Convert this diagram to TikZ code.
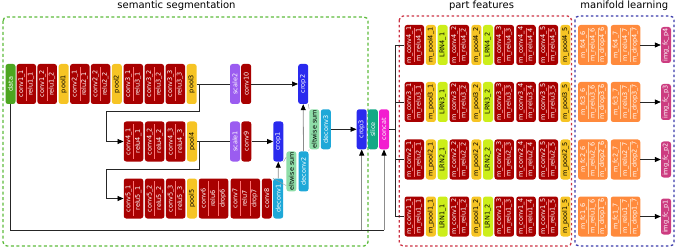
\documentclass[tikz,border=0pt]{standalone}
\usepackage{fontspec}
\setmainfont{DejaVu Sans}
\usetikzlibrary{arrows.meta,calc}
\definecolor{cconv}{HTML}{A80000}
\definecolor{cpool}{HTML}{F6C424}
\definecolor{cdata}{HTML}{4DA520}
\definecolor{cscale}{HTML}{9B5CF0}
\definecolor{ccrop}{HTML}{2A2AEE}
\definecolor{celt}{HTML}{8EDDA8}
\definecolor{cdec}{HTML}{1EA8D8}
\definecolor{cslice}{HTML}{13A985}
\definecolor{cconcat}{HTML}{F21ECF}
\definecolor{clrn}{HTML}{CCEE1A}
\definecolor{cfc}{HTML}{FF8A3C}
\definecolor{cimg}{HTML}{CC3C80}
\definecolor{gboxc}{HTML}{5DBB3C}
\definecolor{rboxc}{HTML}{CC3344}
\definecolor{bboxc}{HTML}{3A3AAA}
\begin{document}
\begin{tikzpicture}[x=1pt,y=-1pt,
  blk/.style={rotate=90, rounded corners=2.5pt, minimum width=40pt, inner sep=0pt,
    align=center, text=white, font=\fontsize{6.5}{9.5}\selectfont},
  onebox/.style={blk, minimum height=10pt},
  twobox/.style={blk, minimum height=19.5pt},
  threebox/.style={blk, minimum height=29.5pt},
  convbox/.style={twobox, fill=cconv},
  poolbox/.style={onebox, fill=cpool, text=black},
  lrnbox/.style={onebox, fill=clrn, text=black},
  eltbox/.style={onebox, fill=celt, text=black},
  fcbox/.style={threebox, fill=cfc},
  imgbox/.style={onebox, fill=cimg, minimum width=36pt},
  title/.style={anchor=base, font=\fontsize{10}{12}\selectfont},
  conn/.style={draw=black!85, line width=0.7pt},
  gconn/.style={draw=black!45, line width=0.8pt},
  arr/.style={-{Triangle[length=6pt,width=5pt,color=black]}},
  thinl/.style={draw=black!40, line width=0.4pt},
  sepr/.style={draw=red!55!white, line width=0.5pt},
  sepo/.style={draw=orange!35!white, line width=0.5pt},
  gdash/.style={draw=gboxc, line width=1.3pt, dash pattern=on 3pt off 2.5pt, rounded corners=4pt},
  rdash/.style={draw=rboxc, line width=1.3pt, dash pattern=on 2.5pt off 2.5pt, rounded corners=4pt},
  bdash/.style={draw=bboxc, line width=1.3pt, dash pattern=on 2.5pt off 2.5pt, rounded corners=4pt}
]
\useasboundingbox (0,0) rectangle (676,248);

% group frames
\draw[gdash] (3,17) rectangle (368,246);
\draw[rdash] (399.3,16) rectangle (571.5,246);
\draw[bdash] (575,16) rectangle (674,246);
\node[title] (t1) at (176.5,9) {semantic segmentation};
\node[title] (t2) at (481.5,8.5) {part features};
\node[title] (t3) at (624.3,8.5) {manifold learning};

% row 1
\node[onebox, fill=cdata] (data) at (10.5,84) {data};
\node[convbox] (c11) at (26.3,84) {conv1\_1\\relu1\_1};
\node[convbox] (c12) at (47.2,84) {conv1\_2\\relu1\_2};
\node[poolbox] (p1) at (63.7,84) {pool1};
\node[convbox] (c21) at (79.8,84) {conv2\_1\\relu2\_1};
\node[convbox] (c22) at (100.5,84) {conv2\_2\\relu2\_2};
\node[poolbox] (p2) at (116.8,84) {pool2};
\node[convbox] (c31) at (133.3,84) {conv3\_1\\relu3\_1};
\node[convbox] (c32) at (154.3,84) {conv3\_2\\relu3\_2};
\node[convbox] (c33) at (175.3,84) {conv3\_3\\relu3\_3};
\node[poolbox] (p3) at (191.7,84) {pool3};
\node[onebox, fill=cscale] (sc2) at (235,84) {scale2};
\node[onebox, fill=cconv] (c10) at (246.2,84) {conv10};
\node[onebox, fill=ccrop] (cr2) at (303.2,84) {crop2};

% row 2
\node[convbox] (c41) at (133.5,141.5) {conv4\_1\\relu4\_1};
\node[convbox] (c42) at (154.7,141.5) {conv4\_2\\relu4\_2};
\node[convbox] (c43) at (175.7,141.5) {conv4\_3\\relu4\_3};
\node[poolbox] (p4) at (192,141.5) {pool4};
\node[onebox, fill=cscale] (sc1) at (235,141.5) {scale1};
\node[onebox, fill=cconv] (c9) at (246.3,141.5) {conv9};
\node[onebox, fill=ccrop] (cr1) at (278.3,141.5) {crop1};

% row 3
\node[convbox] (c51) at (133.5,198.5) {conv5\_1\\relu5\_1};
\node[convbox] (c52) at (154.7,198.5) {conv5\_2\\relu5\_2};
\node[convbox] (c53) at (175.7,198.5) {conv5\_3\\relu5\_3};
\node[poolbox] (p5) at (192,198.5) {pool5};
\node[threebox, fill=cconv] (c6) at (213.5,198.5) {conv6\\relu6\\drop6};
\node[threebox, fill=cconv] (c7) at (245.3,198.5) {conv7\\relu7\\drop7};
\node[onebox, fill=cconv] (c8) at (266.8,198.5) {conv8};
\node[onebox, fill=cdec] (dc1) at (278.2,198.5) {deconv1};

% fusion
\node[eltbox] (el1) at (291.4,171.4) {eltwise sum};
\node[onebox, fill=cdec] (dc2) at (303.5,171.4) {deconv2};
\node[eltbox] (el2) at (314.3,129.3) {eltwise sum};
\node[onebox, fill=cdec] (dc3) at (325.8,129.3) {deconv3};
\node[onebox, fill=ccrop] (cr3) at (361.7,129.3) {crop3};
\node[onebox, fill=cslice] (sl) at (372.8,129.3) {slice};
\node[onebox, fill=cconcat] (cc) at (384,129.3) {concat};

% part features + manifold rows
\foreach \k/\cy in {4/45,3/102,2/159.5,1/216.5}{
  \node[convbox] (m\k a) at (414.3,\cy) {m\_conv\k\_1\\m\_relu\k\_1};
  \node[poolbox] (q\k a) at (430.9,\cy) {m\_pool\k\_1};
  \node[lrnbox] (l\k a) at (442.7,\cy) {LRN\k\_1};
  \node[convbox] (m\k b) at (459.3,\cy) {m\_conv\k\_2\\m\_relu\k\_2};
  \node[poolbox] (q\k b) at (476.4,\cy) {m\_pool\k\_2};
  \node[lrnbox] (l\k b) at (488,\cy) {LRN\k\_2};
  \node[convbox] (m\k c) at (504.2,\cy) {m\_conv\k\_3\\m\_relu\k\_3};
  \node[convbox] (m\k d) at (526,\cy) {m\_conv\k\_4\\m\_relu\k\_4};
  \node[convbox] (m\k e) at (548.3,\cy) {m\_conv\k\_5\\m\_relu\k\_5};
  \node[poolbox] (q\k e) at (565.4,\cy) {m\_pool\k\_5};
  \node[fcbox] (f\k a) at (592.8,\cy) {m\_fc\k\_6\\m\_relu\k\_6\\m\_drop\k\_6};
  \node[fcbox] (f\k b) at (625.5,\cy) {m\_fc\k\_7\\m\_relu\k\_7\\m\_drop\k\_7};
  \node[imgbox] (g\k) at (666,\cy) {img\_fc\_p\k};
  \draw[conn,arr] (f\k b) -- (g\k);
}

% separators
\foreach \n in {c11,c12,c21,c22,c31,c32,c33,c41,c42,c43,c51,c52,c53,
  m1a,m1b,m1c,m1d,m1e,m2a,m2b,m2c,m2d,m2e,m3a,m3b,m3c,m3d,m3e,m4a,m4b,m4c,m4d,m4e}
  \draw[sepr] ([yshift=-3pt]\n.east) -- ([yshift=3pt]\n.west);
\foreach \n/\s in {c6/sepr,c7/sepr,f1a/sepo,f1b/sepo,f2a/sepo,f2b/sepo,f3a/sepo,f3b/sepo,f4a/sepo,f4b/sepo}
  \foreach \t in {1/3,2/3}
    \draw[\s] ($(\n.north east)!\t!(\n.south east)+(0,3)$) -- ($(\n.north west)!\t!(\n.south west)+(0,-3)$);

% semantic connectors
\draw[conn] (p3) -- (sc2);
\draw[conn,arr] (c10) -- (cr2);
\draw[conn,arr] (p3.south) -- ++(2.3,0) -- ++(0,27) -| ([xshift=-17pt]c41.north) -- (c41.north);
\draw[conn] (p4) -- (sc1);
\draw[conn,arr] (c9) -- (cr1);
\draw[conn,arr] (p4.south) -- ++(1.8,0) -- ++(0,27.5) -| ([xshift=-17pt]c51.north) -- (c51.north);
\draw[gconn,arr] (dc1.east) -- (cr1.west);
\draw[gconn,arr] (dc2.east) -- (cr2.west);
\draw[thinl] (cr1.south west) -- ([yshift=-6pt]el1.north east);
\draw[thinl] (dc1.north east) -- ([yshift=6pt]el1.north west);
\draw[thinl] (cr2.south west) -- (el2.north east);
\draw[thinl] (dc2.south east) -- (el2.north west);
\draw[conn,arr] (dc3) -- (cr3);

% data skip line to crop3 / concat
\coordinate (bl) at (0,230);
\draw[conn] (data.west) |- (cc.west |- bl);
\draw[gconn,arr] (cr3.west |- bl) -- (cr3.west);
\draw[gconn,arr] (cc.west |- bl) -- (cc.west);

% bus to part features
\coordinate (bus) at (395,129.3);
\draw[conn] (cc) -- (bus);
\draw[conn] (bus |- m4a) -- (bus |- m1a);
\foreach \k in {1,2,3,4}
  \draw[conn] (bus |- m\k a) -- (m\k a.north);
\end{tikzpicture}
\end{document}
